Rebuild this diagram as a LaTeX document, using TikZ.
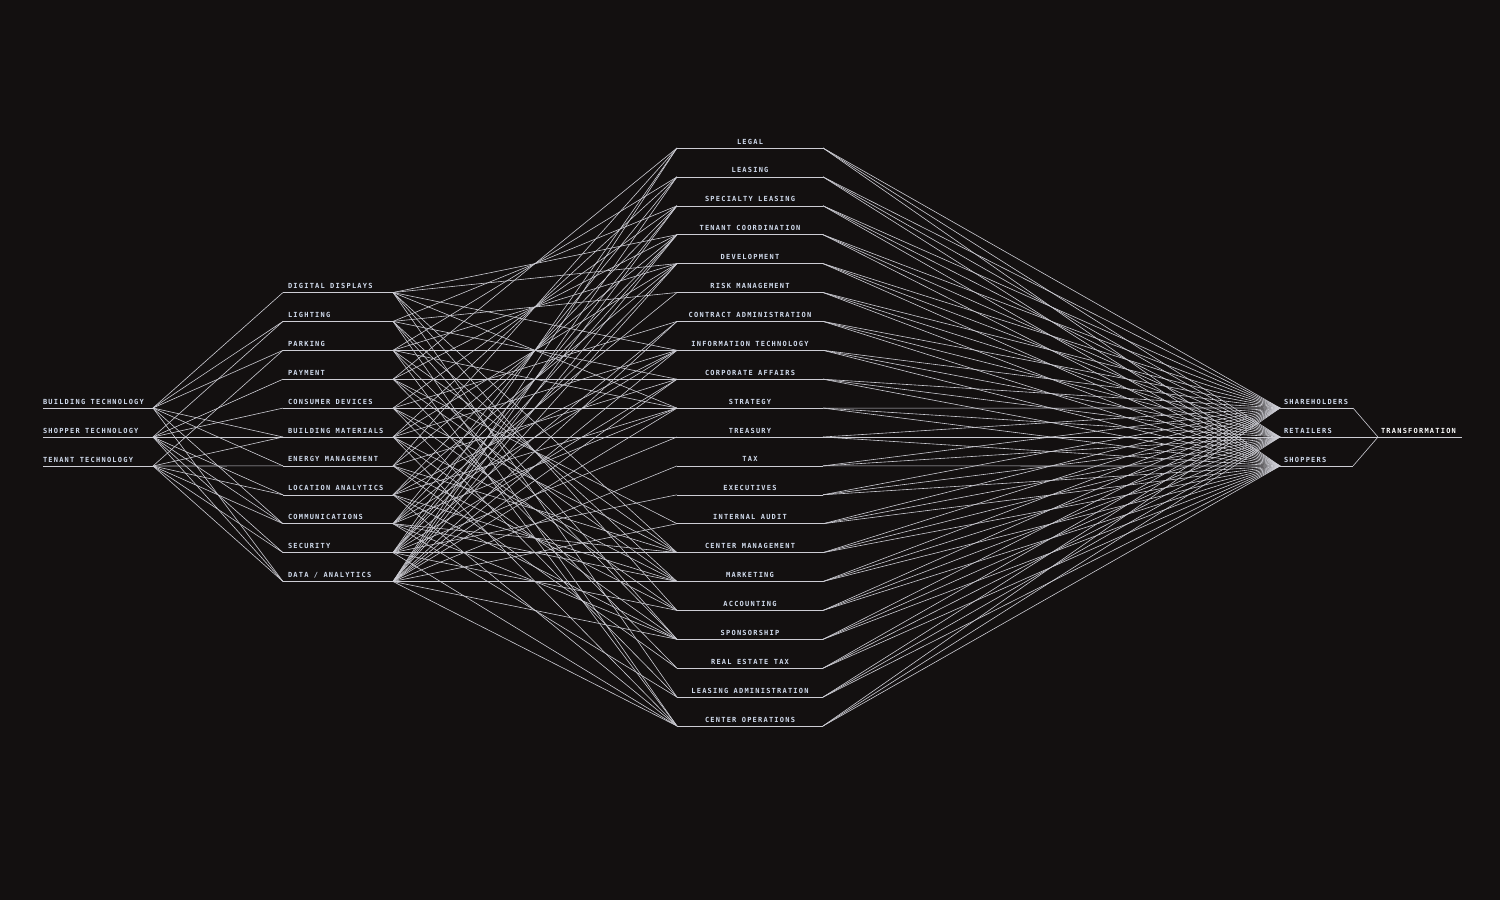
\documentclass[tikz,border=0pt]{standalone}
\usepackage{fontspec}
\newfontfamily\labfont[LetterSpace=17.5]{DejaVu Sans Mono}
\newcommand\labtype{\labfont\fontsize{7pt}{8pt}\selectfont\bfseries}
% word gap for the tracked labels
\newcommand\wsp{\kern5.4pt\relax}
\definecolor{bgcol}{RGB}{19,16,16}
\definecolor{wirecol}{RGB}{205,205,212}
\definecolor{labcol}{RGB}{210,220,238}

\begin{document}
\begin{tikzpicture}[
    x=1pt, y=-1pt,
    wire/.style={draw=wirecol, line width=0.6pt},
    lab/.style={font=\labtype, text=labcol, anchor=south west,
        inner ysep=4pt, outer sep=0pt, text height=5pt, text depth=0pt, align=left},
    tech/.style={lab, inner xsep=0pt, text width=110pt},
    item/.style={lab, inner xsep=5pt, text width=100pt},
    dept/.style={lab, anchor=south, inner xsep=0pt, text width=146pt, align=center},
    group/.style={lab, inner xsep=4pt, text width=65pt},
    goal/.style={lab, inner xsep=3pt, text width=78pt, text=white}
]
    % Background
    \fill[bgcol] (0,0) rectangle (1500,900);

    % Technologies
    \node[tech] (bt) at (43,408) {BUILDING\wsp TECHNOLOGY};
    \node[tech] (st) at (43,437) {SHOPPER\wsp TECHNOLOGY};
    \node[tech] (tt) at (43,466) {TENANT\wsp TECHNOLOGY};

    % Systems
    \node[item] (displays) at (283,292.5) {DIGITAL\wsp DISPLAYS};
    \node[item] (lighting) at (283,321.4) {LIGHTING};
    \node[item] (parking) at (283,350.3) {PARKING};
    \node[item] (payment) at (283,379.2) {PAYMENT};
    \node[item] (devices) at (283,408.1) {CONSUMER\wsp DEVICES};
    \node[item] (materials) at (283,437) {BUILDING\wsp MATERIALS};
    \node[item] (energy) at (283,465.9) {ENERGY\wsp MANAGEMENT};
    \node[item] (location) at (283,494.8) {LOCATION\wsp ANALYTICS};
    \node[item] (comms) at (283,523.7) {COMMUNICATIONS};
    \node[item] (security) at (283,552.6) {SECURITY};
    \node[item] (data) at (283,581.5) {DATA\wsp /\wsp ANALYTICS};

    % Departments
    \node[dept] (legal) at (750,148) {LEGAL};
    \node[dept] (leasing) at (750,176.9) {LEASING};
    \node[dept] (spleasing) at (750,205.8) {SPECIALTY\wsp LEASING};
    \node[dept] (tcoord) at (750,234.7) {TENANT\wsp COORDINATION};
    \node[dept] (devel) at (750,263.6) {DEVELOPMENT};
    \node[dept] (risk) at (750,292.5) {RISK\wsp MANAGEMENT};
    \node[dept] (contract) at (750,321.4) {CONTRACT\wsp ADMINISTRATION};
    \node[dept] (infotech) at (750,350.3) {INFORMATION\wsp TECHNOLOGY};
    \node[dept] (corpaff) at (750,379.2) {CORPORATE\wsp AFFAIRS};
    \node[dept] (strategy) at (750,408.1) {STRATEGY};
    \node[dept] (treasury) at (750,437) {TREASURY};
    \node[dept] (tax) at (750,465.9) {TAX};
    \node[dept] (exec) at (750,494.8) {EXECUTIVES};
    \node[dept] (audit) at (750,523.7) {INTERNAL\wsp AUDIT};
    \node[dept] (cmgmt) at (750,552.6) {CENTER\wsp MANAGEMENT};
    \node[dept] (marketing) at (750,581.5) {MARKETING};
    \node[dept] (accounting) at (750,610.4) {ACCOUNTING};
    \node[dept] (sponsor) at (750,639.3) {SPONSORSHIP};
    \node[dept] (retax) at (750,668.2) {REAL\wsp ESTATE\wsp TAX};
    \node[dept] (leasadm) at (750,697.1) {LEASING\wsp ADMINISTRATION};
    \node[dept] (cops) at (750,726) {CENTER\wsp OPERATIONS};

    % Stakeholders
    \node[group] (sharehold) at (1280,408) {SHAREHOLDERS};
    \node[group] (retailers) at (1280,437) {RETAILERS};
    \node[group] (shoppers) at (1280,466) {SHOPPERS};
    \node[goal] (transform) at (1378,437) {TRANSFORMATION};

    % Underlines
    \foreach \n in {bt,st,tt,displays,lighting,parking,payment,devices,materials,energy,location,comms,security,data,
        legal,leasing,spleasing,tcoord,devel,risk,contract,infotech,corpaff,strategy,treasury,tax,exec,audit,
        cmgmt,marketing,accounting,sponsor,retax,leasadm,cops,sharehold,retailers,shoppers,transform}
        \draw[wire] (\n.south west) -- (\n.south east);

    % Technologies to systems
    \draw[wire] (bt.south east) edge (displays.south west) edge (lighting.south west) edge (parking.south west)
        edge (materials.south west) edge (energy.south west) edge (comms.south west) edge (data.south west);
    \draw[wire] (st.south east) edge (lighting.south west) edge (payment.south west) edge (devices.south west)
        edge (materials.south west) edge (location.south west) edge (comms.south west) edge (security.south west)
        edge (data.south west);
    \draw[wire] (tt.south east) edge (parking.south west) edge (materials.south west) edge (energy.south west)
        edge (location.south west) edge (comms.south west) edge (security.south west) edge (data.south west);

    % Systems to departments
    \draw[wire] (legal.south west) edge (payment.south east) edge (energy.south east) edge (security.south east) edge (data.south east);
    \draw[wire] (leasing.south west) edge (parking.south east) edge (materials.south east) edge (comms.south east) edge (data.south east);
    \draw[wire] (spleasing.south west) edge (lighting.south east) edge (devices.south east) edge (location.south east) edge (security.south east) edge (data.south east);
    \draw[wire] (tcoord.south west) edge (displays.south east) edge (payment.south east) edge (energy.south east) edge (comms.south east) edge (security.south east) edge (data.south east);
    \draw[wire] (devel.south west) edge (displays.south east) edge (parking.south east) edge (materials.south east) edge (location.south east) edge (security.south east) edge (data.south east);
    \draw[wire] (risk.south west) edge (lighting.south east) edge (comms.south east);
    \draw[wire] (contract.south west) edge (devices.south east) edge (security.south east) edge (data.south east);
    \draw[wire] (infotech.south west) edge (displays.south east) edge (parking.south east) edge (materials.south east) edge (location.south east) edge (comms.south east) edge (data.south east);
    \draw[wire] (corpaff.south west) edge (lighting.south east) edge (payment.south east) edge (energy.south east) edge (security.south east) edge (data.south east);
    \draw[wire] (strategy.south west) edge (displays.south east) edge (parking.south east) edge (devices.south east) edge (location.south east) edge (comms.south east) edge (data.south east);
    \draw[wire] (treasury.south west) edge (materials.south east) edge (security.south east);
    \draw[wire] (tax.south west) edge (data.south east);
    \draw[wire] (exec.south west) edge (security.south east);
    \draw[wire] (audit.south west) edge (payment.south east) edge (data.south east);
    \draw[wire] (cmgmt.south west) edge (displays.south east) edge (parking.south east) edge (devices.south east) edge (energy.south east) edge (comms.south east) edge (security.south east);
    \draw[wire] (marketing.south west) edge (lighting.south east) edge (payment.south east) edge (materials.south east) edge (location.south east) edge (comms.south east) edge (data.south east);
    \draw[wire] (accounting.south west) edge (displays.south east) edge (devices.south east) edge (energy.south east) edge (security.south east);
    \draw[wire] (sponsor.south west) edge (lighting.south east) edge (parking.south east) edge (materials.south east) edge (location.south east) edge (comms.south east) edge (data.south east);
    \draw[wire] (retax.south west) edge (payment.south east) edge (energy.south east);
    \draw[wire] (leasadm.south west) edge (displays.south east) edge (devices.south east) edge (comms.south east);
    \draw[wire] (cops.south west) edge (lighting.south east) edge (parking.south east) edge (materials.south east) edge (location.south east) edge (security.south east) edge (data.south east);

    % Departments to stakeholders
    \foreach \m in {legal,leasing,spleasing,tcoord,devel,risk,contract,infotech,corpaff,strategy,treasury,
        tax,exec,audit,cmgmt,marketing,accounting,sponsor,retax,leasadm,cops}
        \draw[wire] (\m.south east) edge (sharehold.south west) edge (retailers.south west) edge (shoppers.south west);

    % Stakeholders to transformation
    \draw[wire] (transform.south west) edge (sharehold.south east) edge (retailers.south east) edge (shoppers.south east);
\end{tikzpicture}
\end{document}
